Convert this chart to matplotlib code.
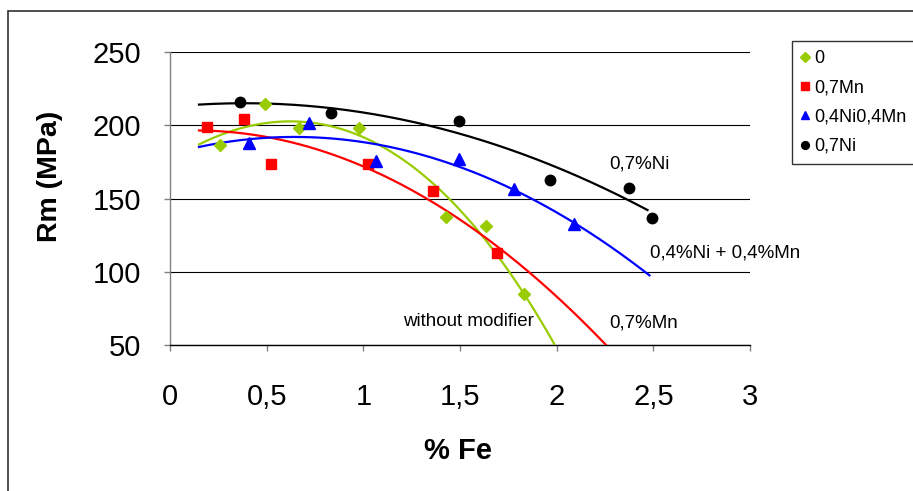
import numpy as np
import matplotlib
matplotlib.use("Agg")
import matplotlib.pyplot as plt
from matplotlib.patches import Rectangle

# ---------------- data ----------------
x_none = [0.257, 0.490, 0.665, 0.976, 1.426, 1.633, 1.829]
y_none = [186.4, 214.4, 198.0, 198.0, 137.4, 131.3, 84.9]

x_mn = [0.190, 0.381, 0.521, 1.023, 1.359, 1.690]
y_mn = [198.9, 204.0, 173.3, 173.3, 155.3, 112.7]

x_nimn = [0.407, 0.717, 1.064, 1.493, 1.778, 2.088]
y_nimn = [187.5, 201.5, 175.5, 177.0, 156.5, 132.5]

x_ni = [0.360, 0.831, 1.493, 1.964, 2.373, 2.492]
y_ni = [215.7, 208.2, 202.8, 162.6, 157.2, 136.8]

# trendline of the "without modifier" series
trend_none_x = [0.148, 0.641, 0.987, 1.331, 1.590, 1.828, 1.995]
trend_none_y = [186.4, 204.0, 191.0, 162.6, 130.8, 85.0, 49.0]

series_labels = ["0", "0,7Mn", "0,4Ni0,4Mn", "0,7Ni"]
curve_labels = ["without modifier", "0,7%Mn", "0,4%Ni + 0,4%Mn", "0,7%Ni"]
trend_degree = [3, 2, 2, 2]
trend_start = [0.15, 0.15, 0.15, 0.15]
trend_end = [2.5, 2.5, 2.48, 2.47]

x_ticks = [0, 0.5, 1, 1.5, 2, 2.5, 3]
x_ticklabels = ["0", "0,5", "1", "1,5", "2", "2,5", "3"]
y_ticks = [50, 100, 150, 200, 250]

# ---------------- figure ----------------
W, H = 913, 491
fig = plt.figure(figsize=(W / 100, H / 100), dpi=100)
ax = fig.add_axes([170 / W, 1 - 345.3 / H, (750 - 170) / W, (345.3 - 51.7) / H])

colors = ["#99CC00", "#FF0000", "#0000FF", "#000000"]
markers = ["D", "s", "^", "o"]
msizes = [6.3, 7.2, 8.0, 7.5]
xs = [x_none, x_mn, x_nimn, x_ni]
ys = [y_none, y_mn, y_nimn, y_ni]
fit_x = [trend_none_x, x_mn, x_nimn, x_ni]
fit_y = [trend_none_y, y_mn, y_nimn, y_ni]

handles = []
for i in range(4):
    coef = np.polyfit(fit_x[i], fit_y[i], trend_degree[i])
    xt = np.linspace(trend_start[i], trend_end[i], 300)
    ax.plot(xt, np.polyval(coef, xt), color=colors[i], lw=1.6, zorder=3)
    h, = ax.plot(xs[i], ys[i], linestyle="none", marker=markers[i], ms=msizes[i],
                 color=colors[i], mec=colors[i], zorder=4, label=series_labels[i])
    handles.append(h)

ax.set_xlim(0, 3)
ax.set_ylim(50, 250)
ax.set_xticks(x_ticks)
ax.set_xticklabels(x_ticklabels)
ax.set_yticks(y_ticks)
ax.yaxis.grid(True, color="black", lw=0.8)
ax.set_axisbelow(True)
for s in ["top", "right"]:
    ax.spines[s].set_visible(False)
ax.spines["left"].set_color("#808080")
ax.spines["bottom"].set_color("black")
ax.spines["left"].set_linewidth(1.0)
ax.spines["bottom"].set_linewidth(1.0)

ax.tick_params(axis="y", direction="out", length=4, width=1, color="#808080", pad=17)
ax.tick_params(axis="x", direction="out", length=4, width=1, color="#808080", pad=23)
for lab in ax.get_xticklabels() + ax.get_yticklabels():
    lab.set_fontfamily("Liberation Sans")
    lab.set_fontsize(21)

# axis titles
fig.text(50 / W, 1 - 176 / H, "Rm (MPa)", rotation=90, ha="center", va="center",
         family="Liberation Sans", weight="bold", size=20.5)
fig.text(458 / W, 1 - 451 / H, "% Fe", ha="center", va="center",
         family="Liberation Sans", weight="bold", size=21)

# curve labels
lab_pos = [(403, 322), (609, 323), (650, 253), (609, 164)]
for txt, (px, py) in zip(curve_labels, lab_pos):
    fig.text(px / W, 1 - py / H, txt, ha="left", va="center",
             family="Liberation Sans", size=13.5)

# legend
leg = fig.legend(handles=handles, labels=series_labels, loc="upper left",
                 bbox_to_anchor=(792 / W, 1 - 41 / H), bbox_transform=fig.transFigure,
                 prop=dict(family="Liberation Sans", size=13), frameon=True,
                 fancybox=False, edgecolor="black", borderpad=0.5, labelspacing=0.68,
                 handlelength=0.45, handletextpad=0.3, markerscale=0.75, borderaxespad=0)
leg.get_frame().set_linewidth(1.0)

# outer chart border
fig.patches.append(Rectangle((8 / W, -0.1), 1.2, 1.1 - 10.7 / H,
                             transform=fig.transFigure, fill=False,
                             edgecolor="#303030", lw=1.2))

fig.savefig("out.png", dpi=100)
